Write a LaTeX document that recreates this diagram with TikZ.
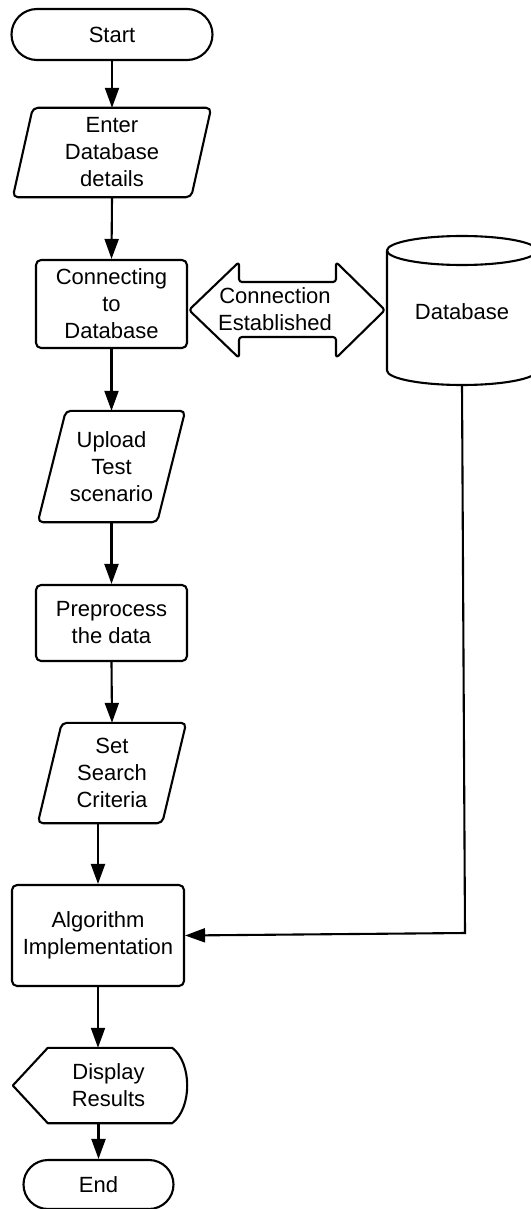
\documentclass[tikz,border=0pt]{standalone}
\usepackage{fontspec}
\setmainfont{Liberation Sans}
\usetikzlibrary{arrows.meta,calc}
\begin{document}
\begin{tikzpicture}[x=1pt,y=-1pt,
  every node/.style={font=\fontsize{22}{27}\selectfont, align=center, inner sep=0pt},
  outline/.style={draw=black, line width=2.1pt, line join=round},
  boxnode/.style={outline, rectangle, rounded corners=5pt},
  termnode/.style={outline, rectangle},
  holder/.style={draw=none, rectangle},
  arr/.style={line width=2.1pt, -{Triangle[length=20pt,width=14pt]}}
]
\useasboundingbox (0,0) rectangle (530,1209);
\fill[white] (0,0) rectangle (530,1209);

% Start
\node[termnode, rounded corners=25.5pt, minimum width=201pt, minimum height=51pt] (start) at (112,34.5) {Start};

% Enter Database details (parallelogram)
\node[holder, minimum width=198pt, minimum height=89pt] (enter) at (112,152.5) {Enter\\Database\\details};
\draw[outline, rounded corners=5pt] ($(enter.north west)+(20,0)$) -- (enter.north east) -- ($(enter.south east)+(-20,0)$) -- (enter.south west) -- cycle;

% Connecting to Database
\node[boxnode, minimum width=151pt, minimum height=88pt] (conn) at (111.5,304) {Connecting\\to\\Database};

% Connection Established double arrow
\coordinate (dl) at (189,310);
\coordinate (dr) at (385,310);
\draw[outline, rounded corners=3pt] (dl) -- (239,262) -- (239,282) -- (336,282) -- (336,262) -- (dr) -- (336,358) -- (336,337) -- (239,337) -- (239,358) -- cycle;
\node (est) at (275,309) {Connection\\Established};

% Database cylinder
\node[holder, minimum width=150pt, minimum height=149pt] (db) at (462,310.5) {};
\draw[outline, fill=white] (462,250.5) ellipse [x radius=75, y radius=14.5];
\draw[outline] (387,250.5) -- (387,370.5) arc[start angle=180, end angle=0, x radius=75, y radius=14.5] -- (537,250.5);
\node (dbtext) at (462,312) {Database};
\coordinate (dbbot) at (462,385);
\coordinate (dbturn) at (465,933);

% Upload Test scenario
\node[holder, minimum width=147pt, minimum height=111pt] (upload) at (111.5,466.5) {Upload\\Test\\scenario};
\draw[outline, rounded corners=5pt] ($(upload.north west)+(28,0)$) -- (upload.north east) -- ($(upload.south east)+(-28,0)$) -- (upload.south west) -- cycle;

% Preprocess the data
\node[boxnode, minimum width=151pt, minimum height=76pt] (prep) at (111.5,623) {Preprocess\\the data};

% Set Search Criteria
\node[holder, minimum width=148pt, minimum height=100pt] (set) at (112,773) {Set\\Search\\Criteria};
\draw[outline, rounded corners=5pt] ($(set.north west)+(24,0)$) -- (set.north east) -- ($(set.south east)+(-24,0)$) -- (set.south west) -- cycle;

% Algorithm Implementation
\node[boxnode, minimum width=172pt, minimum height=101pt] (alg) at (98,935.5) {Algorithm\\Implementation};

% Display Results
\node[holder, minimum width=174pt, minimum height=75pt] (disp) at (100,1085.5) {};
\draw[outline] (disp.west) -- ($(disp.north west)+(35,0)$) -- ($(disp.north east)+(-15,0)$)
  .. controls ($(disp.north east)+(5,15)$) and ($(disp.south east)+(5,-15)$) .. ($(disp.south east)+(-15,0)$)
  -- ($(disp.south west)+(35,0)$) -- cycle;
\node (disptext) at (108.5,1085) {Display\\Results};

% End
\node[termnode, rounded corners=24.5pt, minimum width=150pt, minimum height=49pt] (endn) at (98.5,1184.5) {End};

% Connectors
\draw[arr] (start.south) -- (enter.north);
\draw[arr] (enter.south) -- (conn.north);
\draw[arr] (conn.south) -- (upload.north);
\draw[arr] (upload.south) -- (prep.north);
\draw[arr] (prep.south) -- (set.north);
\draw[arr] (set.south -| alg.north) -- (alg.north);
\draw[arr] (dbbot) -- (dbturn) -- (alg.east);
\draw[arr] (alg.south) -- (alg.south |- disp.north);
\draw[arr] (disp.south -| endn.north) -- (endn.north);
\end{tikzpicture}
\end{document}
